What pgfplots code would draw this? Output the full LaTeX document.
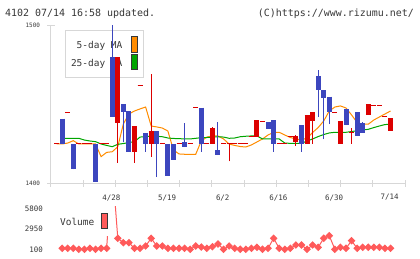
\documentclass[border=0pt]{standalone}
\usepackage{pgfplots}
\pgfplotsset{compat=1.18}
\usepackage{pgfplotstable}
\usepackage{fontspec}
\setmainfont{DejaVu Sans Mono}
\setmonofont{DejaVu Sans Mono}

\definecolor{cred}{RGB}{220,0,0}
\definecolor{cblue}{RGB}{60,70,190}
\definecolor{maf}{RGB}{255,140,0}
\definecolor{mat}{RGB}{0,165,0}
\definecolor{vol}{RGB}{255,90,90}
\definecolor{gridgray}{RGB}{215,215,215}
\definecolor{txt}{RGB}{55,55,55}

\pgfplotstableread{
i o h l c
0 1425 1425 1425 1425
2 1445 1445 1445 1445
4 1425 1425 1425 1425
5 1425 1425 1425 1425
6 1425 1425 1425 1425
8 1425 1425 1425 1425
9 1425 1425 1425 1425
11 1438.5 1480 1413 1480
14 1420 1436 1413 1436
15 1462 1462 1462 1462
17 1425 1469 1417 1433
19 1425 1425 1425 1425
22 1425 1425 1425 1425
24 1425 1425 1425 1425
25 1448 1448 1448 1448
27 1425 1425 1425 1425
28 1425 1436 1425 1435
30 1425 1425 1425 1425
31 1425 1425 1414 1425
32 1425 1425 1425 1425
33 1425 1425 1425 1425
34 1425 1425 1425 1425
35 1430 1430 1430 1430
36 1430 1440 1430 1440
37 1439 1439 1439 1439
40 1425 1425 1425 1425
41 1425 1425 1425 1425
42 1430 1430 1430 1430
43 1426.5 1431 1424 1430
45 1425 1443 1425 1443
46 1440 1445 1425 1445
50 1445 1445 1445 1445
51 1425 1439 1425 1439
53 1432 1435 1425 1432
56 1443.5 1450 1443.5 1450
57 1449.5 1449.5 1449.5 1449.5
58 1449.5 1449.5 1449.5 1449.5
59 1442.5 1442.5 1442.5 1442.5
60 1433.4 1441 1433.4 1441
}\redc

\pgfplotstableread{
i o h l c
1 1441 1441 1425 1425
3 1425 1425 1409 1409
7 1425 1425 1401 1401
10 1480 1502 1442 1442
12 1450 1450 1426 1445
13 1446 1446 1420 1420
16 1432 1432 1420 1425
18 1433 1433 1404 1425
20 1425 1425 1405 1405
21 1425 1425 1415 1415
23 1426 1438 1423 1423
26 1448 1448 1420 1425
29 1421 1439 1418 1418
38 1439 1439 1434.5 1434.5
39 1440 1440 1420 1425
44 1437 1437 1420 1425
47 1468 1472 1442 1459
48 1459 1459 1428 1454
49 1455 1455 1437.5 1445
52 1447 1447 1437 1437
54 1445 1445 1430 1430
55 1438 1439 1432 1432
}\bluec

\pgfplotstableread{
i v
0 1425.0
1 1425.0
2 1425.6
3 1427.1
4 1425.0
5 1425.0
6 1425.0
7 1425.0
8 1417.0
9 1419.7
10 1420.1
11 1423.3
12 1437.7
13 1444.0
14 1445.9
15 1447.2
16 1448.4
17 1436.4
18 1435.8
19 1435.1
20 1433.2
21 1421.2
22 1418.7
23 1418.5
24 1418.5
25 1418.5
26 1426.9
27 1429.4
28 1430.1
29 1430.1
30 1428.2
31 1425.0
32 1424.1
33 1423.4
34 1423.1
35 1424.4
36 1426.3
37 1428.2
38 1430.7
39 1432.4
40 1432.4
41 1430.7
42 1429.1
43 1428.2
44 1427.5
45 1428.8
46 1432.3
47 1435.4
48 1439.6
49 1445.9
50 1448.4
51 1449.1
52 1447.8
53 1443.4
54 1438.6
55 1437.5
56 1437.5
57 1440.2
58 1442.1
59 1444.0
60 1445.9
}\mafive

\pgfplotstableread{
i v
1 1428.6
2 1428.6
3 1428.6
4 1428.6
5 1427.5
6 1426.9
7 1426.5
8 1425.0
9 1424.1
10 1423.3
11 1424.8
12 1425.3
13 1425.9
14 1426.5
15 1429.4
16 1429.6
17 1430.1
18 1429.9
19 1429.6
20 1428.8
21 1428.5
22 1428.4
23 1428.2
24 1428.2
25 1428.6
26 1429.0
27 1429.1
28 1429.4
29 1429.6
30 1429.4
31 1428.6
32 1428.8
33 1429.6
34 1429.9
35 1430.1
36 1430.1
37 1428.2
38 1428.2
39 1428.2
40 1428.2
41 1425.6
42 1425.4
43 1425.4
44 1425.4
45 1426.9
46 1428.2
47 1429.7
48 1431.0
49 1432.0
50 1432.4
51 1432.4
52 1432.4
53 1432.9
54 1433.4
55 1433.9
56 1434.3
57 1435.4
58 1436.4
59 1437.3
60 1437.5
}\matwfive

\pgfplotstableread{
i v
1 241
2 241
3 241
4 100
5 100
6 241
7 100
8 241
9 241
10 12000
11 1655
12 1033
13 1033
14 241
15 241
16 567
17 1655
18 567
19 567
20 241
21 241
22 241
23 241
24 100
25 567
26 420
27 241
28 468
29 850
30 100
31 567
32 241
33 100
34 100
35 241
36 383
37 100
38 241
39 1655
40 241
41 100
42 241
43 708
44 708
45 100
46 708
47 383
48 1655
49 2023
50 100
51 383
52 241
53 1316
54 241
55 383
56 383
57 383
58 383
59 241
60 241
}\voldata

\begin{document}
\begin{tikzpicture}
\path[use as bounding box] (0bp,0bp) rectangle (420bp,259bp);

% header
\node[anchor=base west, inner sep=0, text=txt, font=\fontsize{10}{12}\selectfont] at (5bp,242.5bp) {4102 07/14 16:58 updated.};
\node[anchor=base east, inner sep=0, text=txt, font=\fontsize{10}{12}\selectfont] at (414bp,242.5bp) {(C)https://www.rizumu.net/};

% legend of the price panel (behind the candles)
\draw[gridgray, fill=white, line width=1bp] (65.7bp,181.7bp) rectangle (143.3bp,228.3bp);
\node[anchor=east, inner sep=0, text=txt, font=\fontsize{9.5}{11}\selectfont] at (122.5bp,213bp) {5-day MA};
\node[anchor=east, inner sep=0, text=txt, font=\fontsize{9.5}{11}\selectfont] at (122.5bp,195.5bp) {25-day MA};
\draw[draw=txt, fill=maf, line width=0.8bp] (131.4bp,206.5bp) rectangle (137.4bp,223bp);
\draw[draw=txt, fill=mat, line width=0.8bp] (131.4bp,190bp) rectangle (137.4bp,204.5bp);

\begin{axis}[
  at={(51bp,75.5bp)}, anchor=south west,
  width=354bp, height=158bp, scale only axis,
  xmin=-1, xmax=62.6, ymin=1400, ymax=1500,
  axis x line*=bottom, axis y line*=left,
  axis line style={gridgray, line width=1bp, -},
  tick style={gridgray, line width=1bp},
  tick align=center, major tick length=7bp,
  ytick={1400,1500}, yticklabels={1400,1500},
  yticklabel style={font=\fontsize{6}{7}\selectfont, text=txt, xshift=-4bp},
  xtick={-1,4.78,10.56,16.35,22.13,27.91,33.69,39.47,45.25,51.04,56.82,62.6},
  xticklabels={},
  extra x ticks={10,20,30,40,50,60},
  extra x tick labels={4/28,5/19,6/2,6/16,6/30,7/14},
  extra x tick style={major tick length=0pt, tick style={draw=none},
    xticklabel style={font=\fontsize{7.5}{9}\selectfont, text=txt, yshift=-7.5bp, xshift=-0.8bp}},
]
\addplot[maf, line width=1bp] table[x=i,y=v] {\mafive};
\addplot[mat, line width=1bp] table[x=i,y=v] {\matwfive};
% red candles
\addplot[cred, line width=1bp, quiver={u=0, v=\thisrow{h}-\thisrow{l}}] table[x=i,y=l] {\redc};
\addplot[cred, line width=5bp, quiver={u=0, v=\thisrow{c}-\thisrow{o}}] table[x=i,y=o] {\redc};
\addplot[cred, line width=1bp, quiver={u=0.9, v=0}] table[x expr=\thisrow{i}-0.45,y=o] {\redc};
\addplot[cred, line width=1bp, quiver={u=0.9, v=0}] table[x expr=\thisrow{i}-0.45,y=c] {\redc};
% blue candles
\addplot[cblue, line width=1bp, quiver={u=0, v=\thisrow{h}-\thisrow{l}}] table[x=i,y=l] {\bluec};
\addplot[cblue, line width=5bp, quiver={u=0, v=\thisrow{c}-\thisrow{o}}] table[x=i,y=o] {\bluec};
\end{axis}

\begin{axis}[
  at={(51bp,3bp)}, anchor=south west,
  width=354bp, height=49bp, scale only axis,
  xmin=-1, xmax=62.6, ymin=-847, ymax=6081,
  axis line style={draw=none}, tick style={draw=none},
  xtick=\empty, ytick={100,2950,5800}, yticklabels={100,2950,5800},
  major tick length=0pt,
  yticklabel style={font=\fontsize{7.5}{9}\selectfont, text=txt, xshift=-4.5bp},
]
\addplot[vol, line width=1bp, mark=square*, mark size=2.2bp,
  mark options={rotate=45, solid, fill=vol, draw=none}] table[x=i,y=v] {\voldata};
\end{axis}

% volume legend (over the line)
\fill[white] (55bp,22.5bp) rectangle (113.5bp,54bp);
\node[anchor=east, inner sep=0, text=txt, font=\fontsize{9.5}{11}\selectfont] at (94.5bp,36.7bp) {Volume};
\draw[draw=txt, fill=vol, line width=0.8bp] (101.3bp,31bp) rectangle (107.3bp,46bp);
\end{tikzpicture}
\end{document}
